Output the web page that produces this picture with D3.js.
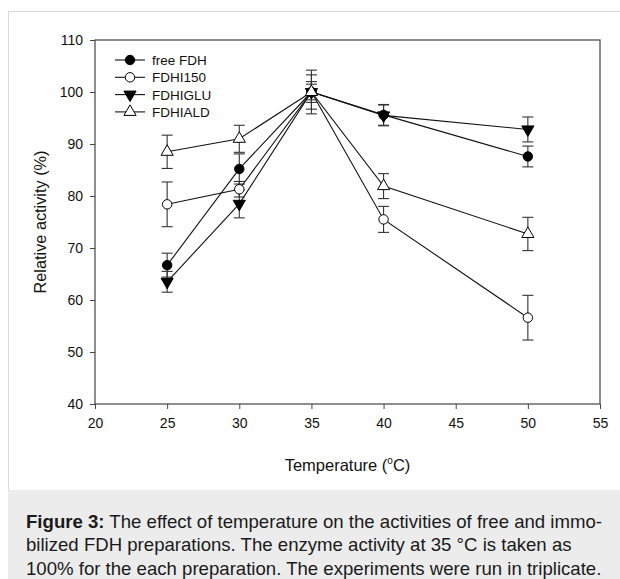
<!DOCTYPE html>
<html>
<head>
<meta charset="utf-8">
<script src="https://cdn.jsdelivr.net/npm/d3@7"></script>
<style>
  html, body { margin: 0; padding: 0; background: #fff; }
  svg { display: block; font-family: Arial, "Liberation Sans", sans-serif; }
</style>
</head>
<body>
<svg id="chart" width="620" height="579"></svg>
<script>
// temperatures (x) in degrees C
var temps = [25, 30, 35, 40, 50];

// relative activity (%) per preparation, with error bars
var freeFDH   = [66.7, 85.2, 100, 95.6, 87.6];
var freeErr   = [2.3, 2.9, 3.3, 2.0, 2.0];
var fdhI150   = [78.4, 81.3, 100, 75.5, 56.6];
var i150Err   = [4.3, 1.5, 4.2, 2.5, 4.3];
var fdhIGLU   = [63.5, 78.5, 100, 95.5, 92.8];
var gluErr    = [2.0, 2.7, 2.0, 2.0, 2.4];
var fdhIALD   = [88.5, 91.0, 100, 81.9, 72.7];
var aldErr    = [3.2, 2.6, 1.5, 2.4, 3.2];

var xTicks = [20, 25, 30, 35, 40, 45, 50, 55];
var yTicks = [40, 50, 60, 70, 80, 90, 100, 110];

var series = [
  { name: "free FDH", values: freeFDH, err: freeErr, symbol: "circle",   fill: "#000" },
  { name: "FDHI150",  values: fdhI150, err: i150Err, symbol: "circle",   fill: "#fff" },
  { name: "FDHIGLU",  values: fdhIGLU, err: gluErr,  symbol: "triDown",  fill: "#000" },
  { name: "FDHIALD",  values: fdhIALD, err: aldErr,  symbol: "triUp",    fill: "#fff" }
];

var svg = d3.select("#chart");

// outer frame and caption panel
svg.append("path")
  .attr("d", "M8.5,579 V11.5 H620")
  .attr("fill", "none").attr("stroke", "#d9d9d9").attr("stroke-width", 1);
svg.append("rect")
  .attr("x", 8).attr("y", 490).attr("width", 612).attr("height", 89)
  .attr("fill", "#ececec");

var pLeft = 95, pRight = 600, pTop = 40, pBottom = 404;

var x = d3.scaleLinear().domain([20, 55]).range([pLeft, pRight]);
var y = d3.scaleLinear().domain([40, 110]).range([pBottom, pTop]);

var axisColor = "#444";

// axes
var gx = svg.append("g")
  .attr("transform", "translate(0," + pBottom + ")")
  .call(d3.axisBottom(x).tickValues(xTicks).tickSize(5).tickPadding(9));
var gy = svg.append("g")
  .attr("transform", "translate(" + pLeft + ",0)")
  .call(d3.axisLeft(y).tickValues(yTicks).tickSize(5).tickPadding(7));

[gx, gy].forEach(function(g) {
  g.select(".domain").remove();
  g.selectAll("line").attr("stroke", axisColor);
  g.selectAll("text").attr("font-size", 14).attr("fill", "#111")
    .attr("font-family", "Arial, 'Liberation Sans', sans-serif");
});

// box frame
svg.append("rect")
  .attr("x", pLeft).attr("y", pTop)
  .attr("width", pRight - pLeft).attr("height", pBottom - pTop)
  .attr("fill", "none").attr("stroke", axisColor).attr("stroke-width", 1.2);

// axis titles
var xt = svg.append("text")
  .attr("x", (pLeft + pRight) / 2).attr("y", 471)
  .attr("text-anchor", "middle").attr("font-size", 16.5).attr("fill", "#111");
xt.append("tspan").text("Temperature (");
xt.append("tspan").attr("font-size", 10).attr("dy", -7).text("o");
xt.append("tspan").attr("dy", 7).text("C)");

svg.append("text")
  .attr("transform", "translate(46," + ((pTop + pBottom) / 2) + ") rotate(-90)")
  .attr("text-anchor", "middle").attr("font-size", 16.3).attr("fill", "#111")
  .text("Relative activity (%)");

function symbolPath(type) {
  if (type === "circle") return d3.symbol().type(d3.symbolCircle).size(70)();
  return d3.symbol().type(d3.symbolTriangle).size(64)();
}

var plot = svg.append("g");

series.forEach(function(s) {
  var pts = temps.map(function(t, i) { return { t: t, v: s.values[i], e: s.err[i] }; });

  plot.append("path")
    .datum(pts)
    .attr("fill", "none").attr("stroke", "#111").attr("stroke-width", 1.1)
    .attr("d", d3.line().x(function(d) { return x(d.t); }).y(function(d) { return y(d.v); }));

  var eb = plot.append("g").selectAll("g").data(pts).enter().append("g")
    .attr("stroke", "#333").attr("stroke-width", 1.1);
  eb.append("line")
    .attr("x1", function(d) { return x(d.t); }).attr("x2", function(d) { return x(d.t); })
    .attr("y1", function(d) { return y(d.v + d.e); }).attr("y2", function(d) { return y(d.v - d.e); });
  eb.append("line")
    .attr("x1", function(d) { return x(d.t) - 5.5; }).attr("x2", function(d) { return x(d.t) + 5.5; })
    .attr("y1", function(d) { return y(d.v + d.e); }).attr("y2", function(d) { return y(d.v + d.e); });
  eb.append("line")
    .attr("x1", function(d) { return x(d.t) - 5.5; }).attr("x2", function(d) { return x(d.t) + 5.5; })
    .attr("y1", function(d) { return y(d.v - d.e); }).attr("y2", function(d) { return y(d.v - d.e); });
});

series.forEach(function(s) {
  var pts = temps.map(function(t, i) { return { t: t, v: s.values[i] }; });
  plot.append("g").selectAll("path").data(pts).enter().append("path")
    .attr("d", symbolPath(s.symbol))
    .attr("transform", function(d) {
      return "translate(" + x(d.t) + "," + y(d.v) + ")" + (s.symbol === "triDown" ? " rotate(180)" : "");
    })
    .attr("fill", s.fill).attr("stroke", "#000").attr("stroke-width", 1);
});

// legend
var legend = svg.append("g").selectAll("g").data(series).enter().append("g")
  .attr("transform", function(d, i) { return "translate(0," + (60 + i * 17.3) + ")"; });
legend.append("line")
  .attr("x1", 115).attr("x2", 145).attr("y1", 0).attr("y2", 0)
  .attr("stroke", "#111").attr("stroke-width", 1.1);
legend.append("path")
  .attr("d", function(d) { return symbolPath(d.symbol); })
  .attr("transform", function(d) { return "translate(130,0)" + (d.symbol === "triDown" ? " rotate(180)" : ""); })
  .attr("fill", function(d) { return d.fill; }).attr("stroke", "#000");
legend.append("text")
  .attr("x", 152).attr("y", 5).attr("font-size", 13.5).attr("fill", "#111")
  .text(function(d) { return d.name; });

// caption
var captionLines = [
  [{ b: true, t: "Figure 3:" }, { b: false, t: " The effect of temperature on the activities of free and immo-" }],
  [{ b: false, t: "bilized FDH preparations. The enzyme activity at 35 °C is taken as" }],
  [{ b: false, t: "100% for the each preparation. The experiments were run in triplicate." }]
];
captionLines.forEach(function(line, i) {
  var t = svg.append("text")
    .attr("x", 26).attr("y", 528 + i * 23.3)
    .attr("font-size", 18.6).attr("fill", "#1a1a1a");
  line.forEach(function(part) {
    t.append("tspan").attr("font-weight", part.b ? "bold" : "normal").text(part.t);
  });
});
</script>
</body>
</html>
